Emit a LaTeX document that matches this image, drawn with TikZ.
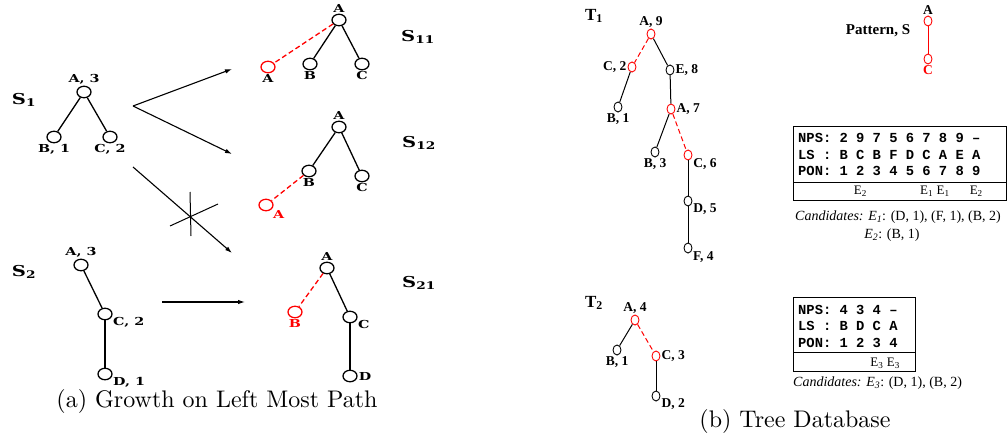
\documentclass[tikz,border=0pt]{standalone}
\usepackage{fontspec}
\setmonofont{Liberation Mono}
\newfontfamily\figfont{Liberation Serif}
\newfontfamily\labfont[FakeStretch=1.3]{DejaVu Serif}
\newfontfamily\capfont{lmroman10-regular.otf}
\usetikzlibrary{arrows.meta,positioning,calc,matrix,shapes.geometric}

\begin{document}
\begin{tikzpicture}[
  x=1pt, y=-1pt,
  ampersand replacement=\&,
  every node/.style={anchor=center},
  vtx/.style={ellipse, draw, line width=1.3pt, minimum width=14pt, minimum height=11.5pt, inner sep=0pt},
  tv/.style={ellipse, draw, line width=0.9pt, minimum width=8pt, minimum height=10pt, inner sep=0pt},
  newv/.style={draw=red},
  lab/.style={font=\labfont\bfseries\fontsize{11}{11}\selectfont, inner sep=1pt, text=black},
  tlab/.style={font=\figfont\bfseries\fontsize{13.5}{13.5}\selectfont, inner sep=1pt, text=black},
  slab/.style={font=\labfont\bfseries\fontsize{15}{15}\selectfont},
  tname/.style={font=\figfont\bfseries\fontsize{17}{17}\selectfont},
  edg/.style={line width=1.3pt},
  newedg/.style={red, line width=1.3pt, dash pattern=on 5pt off 3pt},
  growarr/.style={line width=1.1pt, -{Latex[length=7pt,width=4.5pt]}},
  npstab/.style={matrix of nodes, anchor=north west, inner sep=0pt,
    column sep=8.28pt, row sep=7.5pt,
    nodes={font=\ttfamily\bfseries\fontsize{13.8}{13.8}\selectfont, inner sep=0pt,
      text height=9pt, text depth=0pt}},
  elab/.style={font=\figfont\fontsize{13}{13}\selectfont, inner sep=0pt},
  cand/.style={font=\figfont\fontsize{14}{14}\selectfont, inner sep=0pt},
  capt/.style={font=\capfont\fontsize{24}{26}\selectfont}
]
  \useasboundingbox (0,0) rectangle (1008,439);

  % --- (a) Wachstum auf dem linkesten Pfad ---
  \node[slab] (s1) at (24,100) {S\textsubscript{1}};
  \node[vtx, label={[lab]above:{A, 3}}] (s1a) at (84,92) {};
  \node[vtx, label={[lab]below:{B, 1}}] (s1b) at (54,137) {};
  \node[vtx, label={[lab]below:{C, 2}}] (s1c) at (110,137) {};
  \draw[edg] (s1a) -- (s1b);
  \draw[edg] (s1a) -- (s1c);

  \node[slab] (s2) at (24,272) {S\textsubscript{2}};
  \node[vtx, label={[lab]above:{A, 3}}] (s2a) at (81,265) {};
  \node[vtx, label={[lab]-20:{C, 2}}] (s2c) at (105,314) {};
  \node[vtx, label={[lab]-20:{D, 1}}] (s2d) at (105,374) {};
  \draw[edg] (s2a) -- (s2c);
  \draw[edg] (s2c) -- (s2d);

  % S11
  \node[slab] (s11) at (418,37) {S\textsubscript{11}};
  \node[vtx, label={[lab]above:A}] (s11a) at (339,20) {};
  \node[vtx, newv, label={[lab]below:A}] (s11n) at (268,67) {};
  \node[vtx, label={[lab]below:B}] (s11b) at (310,64) {};
  \node[vtx, label={[lab]below:C}] (s11c) at (362,64) {};
  \draw[edg] (s11a) -- (s11b);
  \draw[edg] (s11a) -- (s11c);
  \draw[newedg] (s11a) -- (s11n);

  % S12
  \node[slab] (s12) at (419,143) {S\textsubscript{12}};
  \node[vtx, label={[lab]above:A}] (s12a) at (339,127) {};
  \node[vtx, label={[lab]below:B}] (s12b) at (309,171) {};
  \node[vtx, label={[lab]below:C}] (s12c) at (362,176) {};
  \node[vtx, newv, label={[lab, text=red]-35:A}] (s12n) at (266,205) {};
  \draw[edg] (s12a) -- (s12b);
  \draw[edg] (s12a) -- (s12c);
  \draw[newedg] (s12b) -- (s12n);

  % S21
  \node[slab] (s21) at (419,283) {S\textsubscript{21}};
  \node[vtx, label={[lab]above:A}] (s21a) at (327,268) {};
  \node[vtx, newv, label={[lab, text=red]below:B}] (s21n) at (295,312) {};
  \node[vtx, label={[lab]-20:C}] (s21c) at (350,317) {};
  \node[vtx, label={[lab]right:D}] (s21d) at (350,376) {};
  \draw[edg] (s21a) -- (s21c);
  \draw[edg] (s21c) -- (s21d);
  \draw[newedg] (s21a) -- (s21n);

  % Pfeile
  \coordinate (fork) at (133,106);
  \coordinate (to11) at (232,69);
  \coordinate (to12) at (232,154);
  \coordinate (cut0) at (133,167);
  \coordinate (to21x) at (232,253);
  \coordinate (from2) at (162,302);
  \coordinate (to21) at (245,302);
  \draw[growarr] (fork) -- (to11);
  \draw[growarr] (fork) -- (to12);
  \draw[growarr] (cut0) -- (to21x);
  \draw[growarr] (from2) -- (to21);
  % Kreuz
  \coordinate (xa) at (190,192);
  \coordinate (xb) at (191,236);
  \coordinate (xc) at (218,204);
  \coordinate (xd) at (170,226);
  \draw[line width=1pt] (xa) -- (xb);
  \draw[line width=1pt] (xc) -- (xd);

  \node[capt] (capa) at (217,401) {(a) Growth on Left Most Path};

  % --- (b) Baumdatenbank ---
  \node[tname] (t1) at (594,16) {T\textsubscript{1}};
  \node[tv, newv, label={[tlab]above:{A, 9}}] (a9) at (651,34) {};
  \node[tv, newv, label={[tlab]left:{C, 2}}] (c2) at (632,67) {};
  \node[tv, label={[tlab]right:{E, 8}}] (e8) at (670,70) {};
  \node[tv, label={[tlab]below:{B, 1}}] (b1) at (618,107) {};
  \node[tv, newv, label={[tlab]right:{A, 7}}] (a7) at (671,109) {};
  \node[tv, label={[tlab]below:{B, 3}}] (b3) at (655,152) {};
  \node[tv, newv, label={[tlab]-25:{C, 6}}] (c6) at (688,155) {};
  \node[tv, label={[tlab]-25:{D, 5}}] (d5) at (688,201) {};
  \node[tv, label={[tlab]-35:{F, 4}}] (f4) at (688,248) {};
  \draw[newedg, line width=1pt] (a9) -- (c2);
  \draw[edg, line width=1pt] (a9) -- (e8);
  \draw[edg, line width=1pt] (c2) -- (b1);
  \draw[edg, line width=1pt] (e8) -- (a7);
  \draw[edg, line width=1pt] (a7) -- (b3);
  \draw[newedg, line width=1pt] (a7) -- (c6);
  \draw[edg, line width=1pt] (c6) -- (d5);
  \draw[edg, line width=1pt] (d5) -- (f4);

  % Muster S
  \node[font=\figfont\bfseries\fontsize{15}{15}\selectfont] (pat) at (878,31) {Pattern, S};
  \node[tv, newv, label={[tlab]above:A}] (pa) at (928,21) {};
  \node[tv, newv, label={[tlab, text=red]below:C}] (pc) at (928,59) {};
  \draw[red, line width=1pt] (pa) -- (pc);

  % Tabelle T1
  \matrix (npsA) [npstab] at (798,133.5) {
    NPS: \& 2 \& 9 \& 7 \& 5 \& 6 \& 7 \& 8 \& 9 \& \textendash \\
    LS : \& B \& C \& B \& F \& D \& C \& A \& E \& A \\
    PON: \& 1 \& 2 \& 3 \& 4 \& 5 \& 6 \& 7 \& 8 \& 9 \\
  };
  \draw[line width=1pt] (793,126) rectangle (1006,200);
  \draw[line width=1pt] (793,182) -- (1006,182);
  \node[elab] (ea1) at (npsA-3-3 |- 0,191) {E\textsubscript{2}};
  \node[elab] (ea2) at (npsA-3-7 |- 0,191) {E\textsubscript{1}};
  \node[elab] (ea3) at (npsA-3-8 |- 0,191) {E\textsubscript{1}};
  \node[elab] (ea4) at (npsA-3-10 |- 0,191) {E\textsubscript{2}};
  \node[cand] (candA) at (898,217) {\textit{Candidates: E\textsubscript{1}}: (D, 1), (F, 1), (B, 2)};
  \node[cand] (candB) at (892,235) {\textit{E\textsubscript{2}}: (B, 1)};

  % T2
  \node[tname] (t2) at (594,303) {T\textsubscript{2}};
  \node[tv, newv, label={[tlab]above:{A, 4}}] (a4) at (635,320) {};
  \node[tv, label={[tlab]below:{B, 1}}] (b1t) at (617,350) {};
  \node[tv, newv, label={[tlab]right:{C, 3}}] (c3) at (656,356) {};
  \node[tv, label={[tlab]-15:{D, 2}}] (d2) at (656,396) {};
  \draw[edg, line width=1pt] (a4) -- (b1t);
  \draw[newedg, line width=1pt] (a4) -- (c3);
  \draw[edg, line width=1pt] (c3) -- (d2);

  % Tabelle T2
  \matrix (npsB) [npstab] at (798,305) {
    NPS: \& 4 \& 3 \& 4 \& \textendash \\
    LS : \& B \& D \& C \& A \\
    PON: \& 1 \& 2 \& 3 \& 4 \\
  };
  \draw[line width=1pt] (793,297) rectangle (915,371);
  \draw[line width=1pt] (793,352) -- (915,352);
  \node[elab] (eb1) at (npsB-3-4 |- 0,363) {E\textsubscript{3}};
  \node[elab] (eb2) at (npsB-3-5 |- 0,363) {E\textsubscript{3}};
  \node[cand, anchor=west] (candC) at (793,383) {\textit{Candidates: E\textsubscript{3}}: (D, 1), (B, 2)};

  \node[capt] (capb) at (795,421) {(b) Tree Database};
\end{tikzpicture}
\end{document}
